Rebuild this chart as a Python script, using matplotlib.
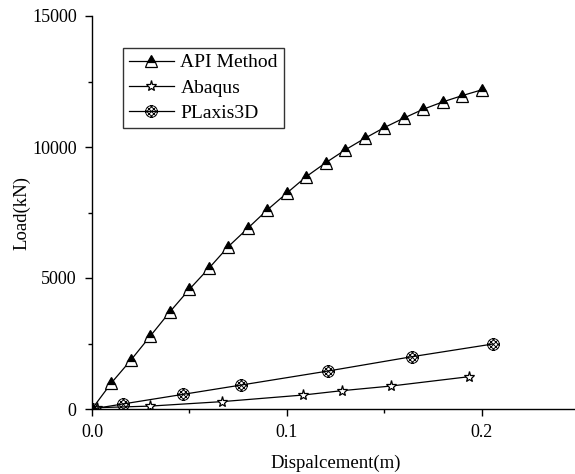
import numpy as np
import matplotlib
matplotlib.use("Agg")
import matplotlib.pyplot as plt
from matplotlib.path import Path

api_x = [0, 0.01, 0.02, 0.03, 0.04, 0.05, 0.06, 0.07, 0.08, 0.09, 0.10,
         0.11, 0.12, 0.13, 0.14, 0.15, 0.16, 0.17, 0.18, 0.19, 0.20]
api_y = [0, 1000, 1870, 2790, 3710, 4570, 5370, 6200, 6900, 7600, 8240,
         8870, 9400, 9890, 10330, 10740, 11100, 11440, 11720, 11960, 12180]

abaqus_x = [0, 0.0024, 0.0297, 0.0665, 0.1085, 0.1284, 0.1537, 0.1935]
abaqus_y = [0, 50, 110, 280, 534, 700, 878, 1233]

plaxis_x = [0, 0.0157, 0.0468, 0.0767, 0.1212, 0.1643, 0.2058]
plaxis_y = [0, 190, 560, 916, 1450, 1997, 2481]

x_ticks = [0.0, 0.1, 0.2]
x_tick_labels = ["0.0", "0.1", "0.2"]
y_ticks = [0, 5000, 10000, 15000]
y_tick_labels = ["0", "5000", "10000", "15000"]

plt.rcParams['font.family'] = ['Liberation Serif', 'DejaVu Serif']

# cross-hatched circle marker
def hatched_circle():
    paths = [Path.circle((0, 0), 1.0)]
    verts, codes = [], []
    for c in (-0.8, 0.0, 0.8):
        for s in (1, -1):
            d = c / np.sqrt(2)
            h = np.sqrt(max(1 - d * d, 0))
            n = np.array([1, -s]) / np.sqrt(2)
            t = np.array([1, s]) / np.sqrt(2)
            p0 = n * d - t * h
            p1 = n * d + t * h
            verts += [tuple(p0), tuple(p1)]
            codes += [Path.MOVETO, Path.LINETO]
    paths.append(Path(verts, codes))
    return Path.make_compound_path(*paths)

hc = hatched_circle()

fig = plt.figure(figsize=(5.75, 4.74), dpi=100)
ax = fig.add_axes([92/575, 65/474, 487/575, 393/474])

ax.plot(api_x, api_y, color='black', lw=0.9, marker='^', markersize=8.5,
        fillstyle='top', markerfacecolor='black', markerfacecoloralt='white',
        markeredgecolor='black', markeredgewidth=0.9, label='API Method')
ax.plot(abaqus_x, abaqus_y, color='black', lw=0.9, marker='*', markersize=8,
        markerfacecolor='white', markeredgecolor='black', markeredgewidth=0.9,
        label='Abaqus')
ax.plot(plaxis_x, plaxis_y, color='black', lw=0.9, marker=hc, markersize=8.5,
        markerfacecolor='none', markeredgecolor='black', markeredgewidth=0.65,
        label='PLaxis3D')

ax.set_xlim(0, 0.25)
ax.set_ylim(0, 15000)
ax.set_xticks(x_ticks)
ax.set_xticklabels(x_tick_labels)
ax.set_yticks(y_ticks)
ax.set_yticklabels(y_tick_labels)
ax.set_xticks([0.05, 0.15], minor=True)
ax.set_yticks([2500, 7500, 12500], minor=True)

for s in ('top', 'right'):
    ax.spines[s].set_visible(False)
for s in ('left', 'bottom'):
    ax.spines[s].set_linewidth(1.0)
ax.tick_params(which='major', direction='out', length=5, width=1, labelsize=13, pad=6)
ax.tick_params(which='minor', direction='out', length=3, width=1)

ax.set_xlabel('Dispalcement(m)', fontsize=13.5, labelpad=10)
ax.set_ylabel('Load(kN)', fontsize=13.5, labelpad=1)

leg = ax.legend(loc='upper left', bbox_to_anchor=(123/575, 1 - 48/474),
                bbox_transform=fig.transFigure, frameon=True, fancybox=False,
                edgecolor='black', fontsize=14, borderaxespad=0,
                handlelength=2.3, handletextpad=0.35, borderpad=0.3,
                labelspacing=0.4)
leg.get_frame().set_linewidth(1.0)

fig.savefig('out.png', dpi=100)
